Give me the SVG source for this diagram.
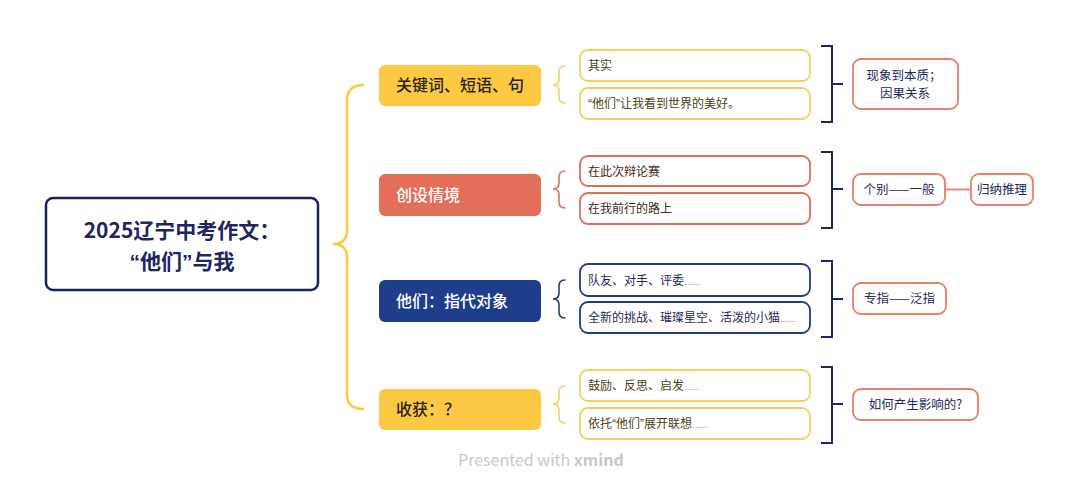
<svg xmlns="http://www.w3.org/2000/svg" width="1080" height="489" viewBox="0 0 1080 489">
<style>
text{font-family:"Noto Sans CJK SC","Liberation Sans",sans-serif;}
.q{font-family:"Liberation Sans","Noto Sans CJK SC",sans-serif}
.el{font-family:"Liberation Sans",sans-serif;font-size:8px}
.center{fill:#fff;stroke:#1b215e;stroke-width:2.5}
.ct{font-size:21px;font-weight:bold;fill:#1e2661;text-anchor:middle}
.bt{font-size:16px;font-weight:500}
.leaf{fill:#fff;stroke-width:1.8}
.lt{font-size:12px}
.res{fill:#fff;stroke:#e5806c;stroke-width:1.8}
.rt{font-size:12.5px;fill:#23295c;text-anchor:middle}
.br{fill:none;stroke-width:1.6;stroke-linecap:round}
.bk{fill:none;stroke:#1d2563;stroke-width:2}
.y{stroke:#f8cf5f}
.r{stroke:#dc6f5e}
.n{stroke:#223b85}
</style>
<rect width="1080" height="489" fill="#fff"/>
<g id="connectors">
<path d="M364,85 Q347,85 347,100 L347,230 Q347,244 333,244 Q347,244 347,258 L347,395 Q347,409 364,409" fill="none" stroke="#fcc93f" stroke-width="2.5"/>
<path class="br y" d="M565,66 Q559,66 559,72 L559,79 Q559,85 553,85 Q559,85 559,91 L559,97 Q559,103 565,103"/>
<path class="br r" d="M565,171 Q559,171 559,177 L559,183 Q559,189 553,189 Q559,189 559,195 L559,202 Q559,208 565,208"/>
<path class="br n" d="M565,280 Q559,280 559,286 L559,293 Q559,299 553,299 Q559,299 559,305 L559,312 Q559,318 565,318"/>
<path class="br y" d="M565,386 Q559,386 559,392 L559,398 Q559,404 553,404 Q559,404 559,410 L559,417 Q559,423 565,423"/>
<path class="bk" d="M821,46 H832 V122 H821 M832,84 H843"/>
<path class="bk" d="M821,152 H832 V228 H821 M832,189 H843"/>
<path class="bk" d="M821,261 H832 V337 H821 M832,299 H843"/>
<path class="bk" d="M821,367 H832 V443 H821 M832,404 H843"/>
<line x1="945" y1="189.5" x2="971" y2="189.5" stroke="#e5806c" stroke-width="1.8"/>
</g>
<g id="central">
<rect class="center" x="46" y="198" width="272" height="92" rx="7"/>
<text class="ct" x="182" y="238">2025辽宁中考作文：</text>
<text class="ct" x="182" y="269"><tspan class="q">“</tspan>他们<tspan class="q">”</tspan>与我</text>
</g>
<g id="branch1">
<rect x="379" y="65" width="162" height="41" rx="6" fill="#fdc843"/>
<text class="bt" x="396" y="91" fill="#2a2418">关键词、短语、句</text>
</g>
<g id="branch2">
<rect x="379" y="174" width="162" height="42" rx="6" fill="#e36e59"/>
<text class="bt" x="396" y="200.5" fill="#fff">创设情境</text>
</g>
<g id="branch3">
<rect x="379" y="280" width="162" height="42" rx="6" fill="#1e3d8b"/>
<text class="bt" x="396" y="306.5" fill="#fff">他们：指代对象</text>
</g>
<g id="branch4">
<rect x="379" y="389" width="162" height="41" rx="6" fill="#fdc843"/>
<text class="bt" x="396" y="415" fill="#2a2418">收获：？</text>
</g>
<g id="leaf1">
<rect class="leaf y" x="580" y="50" width="230" height="31" rx="8"/>
<text class="lt" x="588" y="70" fill="#4d3f14">其实</text>
</g>
<g id="leaf2">
<rect class="leaf y" x="580" y="88" width="230" height="31" rx="8"/>
<text class="lt" x="588" y="108" fill="#4d3f14"><tspan class="q">“</tspan>他们<tspan class="q">”</tspan>让我看到世界的美好。</text>
</g>
<g id="leaf3">
<rect class="leaf r" x="580" y="156" width="230" height="30" rx="8"/>
<text class="lt" x="588" y="175.5" fill="#4a2620">在此次辩论赛</text>
</g>
<g id="leaf4">
<rect class="leaf r" x="580" y="193" width="230" height="31" rx="8"/>
<text class="lt" x="588" y="213" fill="#4a2620">在我前行的路上</text>
</g>
<g id="leaf5">
<rect class="leaf n" x="580" y="264" width="230" height="32" rx="8"/>
<text class="lt" x="588" y="284.5" fill="#1f2a5c">队友、对手、评委<tspan class="el">……</tspan></text>
</g>
<g id="leaf6">
<rect class="leaf n" x="580" y="302" width="230" height="31" rx="8"/>
<text class="lt" x="588" y="322" fill="#1f2a5c">全新的挑战、璀璨星空、活泼的小猫<tspan class="el">……</tspan></text>
</g>
<g id="leaf7">
<rect class="leaf y" x="580" y="370" width="230" height="31" rx="8"/>
<text class="lt" x="588" y="390" fill="#4d3f14">鼓励、反思、启发<tspan class="el">……</tspan></text>
</g>
<g id="leaf8">
<rect class="leaf y" x="580" y="408" width="230" height="31" rx="8"/>
<text class="lt" x="588" y="428" fill="#4d3f14">依托<tspan class="q">“</tspan>他们<tspan class="q">”</tspan>展开联想<tspan class="el">……</tspan></text>
</g>
<g id="result1">
<rect class="res" x="853" y="59" width="105" height="50" rx="8"/>
<text class="rt" x="904" y="80">现象到本质；</text>
<text class="rt" x="905" y="98">因果关系</text>
</g>
<g id="result2">
<rect class="res" x="853" y="174" width="92" height="31" rx="8"/>
<text class="rt" x="899" y="194">个别——一般</text>
</g>
<g id="result2b">
<rect class="res" x="971" y="174" width="62" height="31" rx="8"/>
<text class="rt" x="1002" y="194">归纳推理</text>
</g>
<g id="result3">
<rect class="res" x="853" y="283" width="93" height="31" rx="8"/>
<text class="rt" x="899.5" y="303">专指——泛指</text>
</g>
<g id="result4">
<rect class="res" x="853" y="389" width="125" height="31" rx="8"/>
<text class="rt" x="915.5" y="409">如何产生影响的?</text>
</g>
<text x="458" y="466" font-size="16" fill="#c9c9c9" font-family="Inter,'Liberation Sans',sans-serif">Presented with <tspan font-weight="bold">xmind</tspan></text>
</svg>
